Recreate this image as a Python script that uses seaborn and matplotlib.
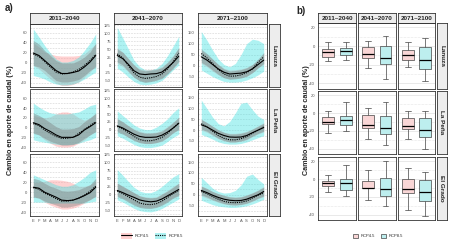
import matplotlib
matplotlib.use("Agg")
import matplotlib.pyplot as plt
from matplotlib.patches import Patch
from matplotlib.lines import Line2D
from matplotlib.ticker import MultipleLocator
import numpy as np
import pandas as pd
import seaborn as sns

sns.set_style("white")
plt.rcParams['font.family'] = ['Liberation Sans', 'DejaVu Sans']
plt.rcParams['axes.unicode_minus'] = False

MONTHS = ['E', 'F', 'M', 'A', 'M', 'J', 'J', 'A', 'S', 'O', 'N', 'D']
SITES = ['Lanuza', 'La Peña', 'El Grado']
PERIODS = ['2011–2040', '2041–2070', '2071–2100']

# ---- panel a) monthly change, rows = sites, cols = periods ----
MEAN45 = [
    [[20, 15, 5, -5, -15, -21, -21, -19, -16, -8, 2, 15],
     [30, 20, 2, -18, -28, -30, -28, -27, -22, -8, 8, 28],
     [40, 25, 5, -15, -30, -38, -36, -34, -28, -15, 5, 25]],
    [[10, 6, -2, -8, -15, -20, -20, -20, -15, -5, 2, 10],
     [12, 5, -5, -15, -22, -25, -25, -24, -18, -8, 5, 20],
     [25, 15, 0, -15, -25, -32, -33, -32, -25, -12, 0, 12]],
    [[10, 8, 0, -5, -10, -16, -17, -16, -12, -7, -1, 10],
     [12, 5, -3, -10, -18, -22, -24, -22, -15, -5, 5, 15],
     [20, 10, -2, -12, -20, -25, -27, -26, -20, -10, 0, 15]],
]
MEAN85 = [
    [[18, 13, 3, -8, -18, -22, -21, -18, -13, -5, 5, 17],
     [35, 22, -2, -25, -38, -42, -40, -36, -28, -12, 10, 38],
     [55, 35, 10, -18, -38, -48, -47, -42, -32, -15, 15, 40]],
    [[8, 4, -5, -12, -18, -22, -22, -20, -12, -4, 4, 12],
     [10, 2, -10, -22, -32, -36, -36, -32, -25, -12, 5, 22],
     [30, 15, -5, -25, -38, -45, -45, -40, -30, -15, 0, 15]],
    [[9, 6, -2, -7, -13, -18, -18, -16, -12, -6, 2, 12],
     [10, 2, -8, -18, -28, -32, -33, -30, -22, -10, 2, 12],
     [15, 5, -8, -20, -30, -35, -36, -34, -28, -15, -2, 8]],
]
GREY_LO = [
    [[-5, -8, -15, -25, -35, -38, -38, -36, -33, -25, -15, -8],
     [10, 0, -20, -38, -50, -55, -52, -48, -42, -28, -10, 12],
     [15, 0, -20, -40, -55, -62, -60, -56, -48, -32, -10, 10]],
    [[-12, -15, -22, -28, -32, -36, -36, -35, -30, -22, -15, -8],
     [-8, -15, -25, -35, -42, -45, -45, -42, -36, -25, -10, 0],
     [5, -5, -22, -38, -48, -55, -55, -50, -42, -28, -15, -5]],
    [[-10, -12, -18, -22, -26, -30, -30, -28, -25, -20, -15, -8],
     [-8, -15, -25, -35, -42, -45, -45, -42, -35, -25, -12, -5],
     [0, -10, -22, -32, -40, -45, -46, -44, -38, -28, -15, -5]],
]
GREY_HI = [
    [[45, 38, 25, 15, 5, 0, 0, 0, 5, 12, 22, 40],
     [50, 40, 20, 0, -15, -18, -16, -14, -8, 8, 28, 55],
     [75, 55, 30, 5, -15, -25, -22, -18, -10, 5, 30, 60]],
    [[30, 25, 18, 10, 2, -3, -3, -2, 2, 12, 20, 30],
     [35, 25, 12, 0, -8, -12, -12, -10, -5, 8, 22, 40],
     [50, 35, 18, 2, -10, -18, -18, -15, -8, 5, 18, 32]],
    [[28, 25, 18, 12, 8, 3, 2, 3, 5, 10, 15, 28],
     [35, 25, 15, 5, -5, -10, -12, -10, 0, 10, 22, 35],
     [40, 28, 15, 5, -3, -10, -12, -10, -2, 8, 20, 35]],
]
PINK_LO = [
    [[-5, -12, -22, -32, -40, -45, -45, -43, -38, -28, -18, -5],
     [5, -5, -22, -40, -48, -52, -50, -46, -40, -25, -8, 8],
     [10, -5, -25, -42, -55, -60, -58, -55, -48, -32, -10, 5]],
    [[-10, -15, -25, -32, -38, -40, -40, -38, -32, -25, -15, -8],
     [-5, -12, -25, -35, -42, -45, -45, -42, -38, -25, -10, 0],
     [0, -10, -25, -40, -50, -55, -55, -52, -45, -30, -18, -8]],
    [[-8, -12, -20, -26, -30, -34, -34, -32, -28, -22, -15, -8],
     [-5, -12, -22, -32, -40, -42, -44, -40, -32, -22, -10, -2],
     [-5, -15, -25, -35, -42, -46, -48, -45, -40, -30, -18, -8]],
]
PINK_HI = [
    [[40, 32, 22, 18, 15, 14, 14, 14, 15, 18, 28, 38],
     [55, 40, 20, 0, -12, -15, -14, -12, -5, 10, 30, 55],
     [70, 50, 28, 5, -12, -20, -18, -15, -8, 5, 25, 55]],
    [[25, 22, 20, 22, 28, 32, 32, 28, 20, 15, 20, 28],
     [35, 25, 12, 2, -5, -10, -10, -8, -2, 10, 25, 40],
     [50, 35, 18, 0, -10, -15, -15, -12, -5, 5, 20, 35]],
    [[20, 20, 22, 25, 25, 24, 22, 18, 12, 12, 15, 22],
     [35, 25, 15, 5, -5, -8, -10, -8, 2, 12, 25, 35],
     [40, 30, 15, 5, -2, -8, -10, -8, 0, 10, 22, 38]],
]
CYAN_LO = [
    [[-25, -28, -32, -38, -42, -44, -44, -42, -38, -32, -25, -18],
     [-10, -22, -38, -52, -60, -62, -60, -56, -48, -32, -15, 0],
     [-20, -35, -50, -62, -72, -75, -75, -72, -65, -55, -42, -25]],
    [[-25, -28, -30, -32, -34, -35, -35, -34, -32, -28, -25, -20],
     [-20, -28, -38, -48, -55, -58, -58, -55, -50, -38, -25, -15],
     [-20, -30, -42, -55, -62, -65, -65, -62, -55, -45, -35, -25]],
    [[-20, -20, -20, -22, -22, -22, -22, -22, -22, -22, -20, -18],
     [-18, -25, -35, -45, -52, -55, -56, -52, -45, -35, -25, -15],
     [-25, -35, -45, -52, -55, -58, -58, -55, -50, -42, -32, -20]],
]
CYAN_HI = [
    [[68, 52, 35, 20, 8, 2, 2, 5, 12, 25, 40, 58],
     [118, 85, 50, 15, -5, -15, -15, -10, 5, 30, 60, 90],
     [155, 115, 70, 30, 5, -5, 10, 50, 100, 120, 115, 100]],
    [[50, 42, 35, 30, 28, 28, 28, 30, 32, 38, 45, 48],
     [60, 45, 30, 15, 5, 0, 0, 8, 20, 35, 55, 70],
     [140, 100, 60, 30, 20, 40, 80, 125, 130, 95, 65, 50]],
    [[35, 30, 25, 20, 15, 12, 12, 15, 22, 30, 40, 45],
     [78, 60, 40, 22, 10, 5, 5, 12, 25, 40, 55, 65],
     [80, 55, 30, 15, 8, 10, 20, 45, 85, 95, 70, 50]],
]

# ---- panel b) box stats: [whisker low, q1, median, q3, whisker high] ----
BOX45 = [
    [[-15.7, -11.6, -6.4, -3.4, 4], [-23, -12.7, -8.2, -1.5, 5], [-22, -15.4, -10, -4, 4]],
    [[-22, -12.7, -10, -4.7, 2], [-29, -16.3, -13.4, -1.8, 5.5], [-29, -18, -14.5, -5.5, 2]],
    [[-14, -8, -4.8, -1.8, 4.8], [-23, -10.3, -10, -1.8, 10], [-35, -15.8, -11, 0, 12.9]],
]
BOX85 = [
    [[-14.6, -10, -5.2, -2.6, 4], [-35, -19.5, -12.7, 0.4, 11], [-37, -25, -15.4, -1.5, 8.6]],
    [[-20, -13.4, -7.3, -3.6, 12.7], [-36, -23.6, -17, -3.6, 12.7], [-40, -27, -19, -5.5, 2]],
    [[-18.4, -12, -4.8, 0.7, 16.5], [-30.5, -19.5, -11, 1, 20], [-42, -25, -14, -1, 8.5]],
]

W, H = 450, 242
PINK = '#ff9a9a'
CYAN = '#3fe0e0'
GREY = '#7a7a7a'
PINK_BOX = '#f9d6d6'
CYAN_BOX = '#bdeeee'
EDGE = '#333333'


def rect(x0, y0, x1, y1):
    return [x0 / W, 1 - y1 / H, (x1 - x0) / W, (y1 - y0) / H]


def strip(fig, r, text, rot=0):
    s = fig.add_axes(r)
    s.set_facecolor('#ededed')
    s.set_xticks([])
    s.set_yticks([])
    for sp in s.spines.values():
        sp.set_color(EDGE)
        sp.set_linewidth(0.6)
    s.text(0.5, 0.5, text, ha='center', va='center', rotation=rot,
           fontsize=4.6, fontweight='bold', transform=s.transAxes)


def frame(ax):
    for sp in ax.spines.values():
        sp.set_color(EDGE)
        sp.set_linewidth(0.6)
    ax.tick_params(axis='both', labelsize=3, colors='#555555', length=1.2,
                   width=0.4, pad=1, labelcolor='#555555')


fig = plt.figure(figsize=(W / 100, H / 100), dpi=100)

# ---------------- a) ----------------
A_COLS = [(30, 99), (114, 182), (198, 267)]
A_ROWS = [(24, 87), (89.5, 151), (153.5, 216)]
A_YLIM = [(-48, 78), (-69, 129), (-97, 189)]
A_STEP = [20, 25, 50]
months = np.arange(1, 13)

for i, site in enumerate(SITES):
    for j, per in enumerate(PERIODS):
        ax = fig.add_axes(rect(A_COLS[j][0], A_ROWS[i][0], A_COLS[j][1], A_ROWS[i][1]))
        ax.set_facecolor('white')
        ax.fill_between(months, PINK_LO[i][j], PINK_HI[i][j], color=PINK, alpha=0.45, lw=0)
        ax.fill_between(months, CYAN_LO[i][j], CYAN_HI[i][j], color=CYAN, alpha=0.42, lw=0)
        ax.fill_between(months, GREY_LO[i][j], GREY_HI[i][j], color=GREY, alpha=0.4, lw=0)
        df = pd.DataFrame({'m': np.concatenate([months, months]),
                           'v': MEAN45[i][j] + MEAN85[i][j],
                           'rcp': ['RCP4.5'] * 12 + ['RCP8.5'] * 12})
        sns.lineplot(data=df, x='m', y='v', style='rcp', color='black',
                     dashes={'RCP4.5': '', 'RCP8.5': (1, 1)}, lw=0.8,
                     legend=False, ax=ax)
        ax.set_xlim(0.42, 12.58)
        ax.set_ylim(*A_YLIM[j])
        ax.yaxis.set_major_locator(MultipleLocator(A_STEP[j]))
        ax.yaxis.set_minor_locator(MultipleLocator(A_STEP[j] / 2))
        ax.grid(True, which='both', axis='y', color='#cfcfcf', lw=0.4, ls=(0, (3, 2)))
        ax.set_axisbelow(True)
        ax.set_xticks(months)
        if i == 2:
            ax.set_xticklabels(MONTHS)
        else:
            ax.set_xticklabels([])
            ax.tick_params(axis='x', length=0)
        ax.set_xlabel('')
        ax.set_ylabel('')
        frame(ax)
        if i == 0:
            strip(fig, rect(A_COLS[j][0], 13, A_COLS[j][1], 24), per)
    strip(fig, rect(269, A_ROWS[i][0], 280, A_ROWS[i][1]), site, rot=270)

fig.text(5 / W, 1 - 8 / H, 'a)', fontsize=7, fontweight='bold', va='center')
fig.text(11 / W, 1 - 120 / H, 'Cambio en aporte de caudal (%)', rotation=90,
         fontsize=5.2, fontweight='bold', ha='center', va='center')

h45 = (Patch(facecolor=PINK, alpha=0.45, lw=0), Line2D([], [], color='black', lw=0.8))
h85 = (Patch(facecolor=CYAN, alpha=0.42, lw=0), Line2D([], [], color='black', lw=0.8, ls=(0, (1, 1))))
fig.legend(handles=[h45, h85], labels=['RCP4.5', 'RCP8.5'], loc='center',
           bbox_to_anchor=(152 / W, 1 - 236 / H), ncol=2, frameon=False,
           fontsize=3, handlelength=2.6, handleheight=1.6, columnspacing=1.6,
           handletextpad=0.6)

# ---------------- b) ----------------
B_COLS = [(318, 356), (357.5, 396), (397.5, 435)]
B_ROWS = [(22.7, 89), (91, 154), (157, 220)]

for i, site in enumerate(SITES):
    for j, per in enumerate(PERIODS):
        ax = fig.add_axes(rect(B_COLS[j][0], B_ROWS[i][0], B_COLS[j][1], B_ROWS[i][1]))
        ax.set_facecolor('white')
        df = pd.DataFrame({'rcp': ['RCP4.5'] * 5 + ['RCP8.5'] * 5,
                           'v': BOX45[i][j] + BOX85[i][j]})
        sns.boxplot(data=df, x='rcp', y='v', hue='rcp',
                    palette={'RCP4.5': PINK_BOX, 'RCP8.5': CYAN_BOX},
                    whis=(0, 100), width=0.68, saturation=1, linecolor='#444444',
                    linewidth=0.5, fliersize=0, legend=False,
                    medianprops={'color': 'black', 'linewidth': 0.9}, ax=ax)
        ax.set_xlim(-0.6, 1.6)
        ax.set_ylim(-46, 25)
        ax.yaxis.set_major_locator(MultipleLocator(20))
        ax.yaxis.set_minor_locator(MultipleLocator(10))
        ax.grid(True, which='major', axis='y', color='#d8d8d8', lw=0.4)
        ax.grid(True, which='minor', axis='y', color='#d0d0d0', lw=0.4, ls=(0, (1, 1.5)))
        ax.set_axisbelow(True)
        ax.set_xlabel('')
        ax.set_ylabel('')
        frame(ax)
        ax.set_xticklabels([])
        if i != 2:
            ax.tick_params(axis='x', length=0)
        if j != 0:
            ax.set_yticklabels([])
            ax.tick_params(axis='y', length=0)
        if i == 0:
            strip(fig, rect(B_COLS[j][0], 13.3, B_COLS[j][1], 22.7), per)
    strip(fig, rect(437, B_ROWS[i][0], 447, B_ROWS[i][1]), site, rot=270)

fig.text(296 / W, 1 - 11 / H, 'b)', fontsize=7, fontweight='bold', va='center')
fig.text(306 / W, 1 - 120 / H, 'Cambio en aporte de caudal (%)', rotation=90,
         fontsize=5.2, fontweight='bold', ha='center', va='center')

b45 = Patch(facecolor=PINK_BOX, edgecolor='#444444', lw=0.5)
b85 = Patch(facecolor=CYAN_BOX, edgecolor='#444444', lw=0.5)
fig.legend(handles=[b45, b85], labels=['RCP4.5', 'RCP8.5'], loc='center',
           bbox_to_anchor=(378 / W, 1 - 236 / H), ncol=2, frameon=False,
           fontsize=3, handlelength=1.2, handleheight=1.4, columnspacing=1.4,
           handletextpad=0.6)

fig.savefig('out.png', dpi=100)
